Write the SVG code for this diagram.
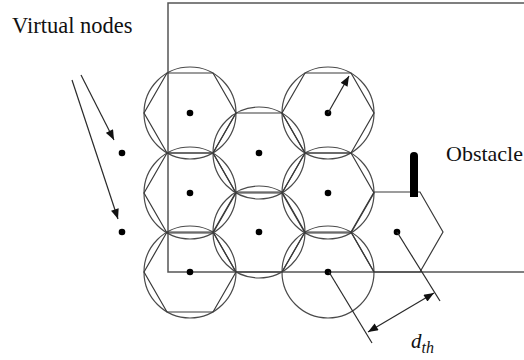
<svg xmlns="http://www.w3.org/2000/svg" width="524" height="360" viewBox="0 0 524 360">
<style>
.ln{fill:none;stroke:#2a2a2a;stroke-width:1.2}
.cir{fill:none;stroke:#4a4a4a;stroke-width:1.2}
.hex{fill:none;stroke:#3a3a3a;stroke-width:1.2}
.dot{fill:#000}
.lbl{font-family:"Liberation Serif","Times New Roman",serif;fill:#111}
.math{font-family:"Liberation Serif","Times New Roman",serif;font-style:italic;fill:#111}
</style>
<defs>
<polygon id="hx" points="-46,0 -23,-40 23,-40 46,0 23,40 -23,40"/>
<marker id="ah" viewBox="0 0 10 8" refX="10" refY="4" markerWidth="11" markerHeight="8" markerUnits="userSpaceOnUse" orient="auto-start-reverse">
<path d="M0,0 L10,4 L0,8 Z" fill="#111"/>
</marker>
</defs>
<rect x="0" y="0" width="524" height="360" fill="#fff"/>
<g id="region">
<path d="M524,3 H168 V272 H524" fill="none" stroke="#555" stroke-width="1.5"/>
</g>
<g id="cell-1-1"><circle class="cir" cx="190" cy="113" r="46"/><use href="#hx" class="hex" x="190" y="113"/><circle class="dot" cx="190" cy="113" r="3.3"/></g>
<g id="cell-1-2"><circle class="cir" cx="190" cy="193" r="46"/><use href="#hx" class="hex" x="190" y="193"/><circle class="dot" cx="190" cy="193" r="3.3"/></g>
<g id="cell-1-3"><circle class="cir" cx="190" cy="272" r="46"/><use href="#hx" class="hex" x="190" y="272"/><circle class="dot" cx="190" cy="272" r="3.3"/></g>
<g id="cell-2-1"><circle class="cir" cx="259" cy="153" r="46"/><use href="#hx" class="hex" x="259" y="153"/><circle class="dot" cx="259" cy="153" r="3.3"/></g>
<g id="cell-2-2"><circle class="cir" cx="259" cy="232" r="46"/><use href="#hx" class="hex" x="259" y="232"/><circle class="dot" cx="259" cy="232" r="3.3"/></g>
<g id="cell-3-1"><circle class="cir" cx="328" cy="113" r="46"/><use href="#hx" class="hex" x="328" y="113"/><circle class="dot" cx="328" cy="113" r="3.3"/></g>
<g id="cell-3-2"><circle class="cir" cx="328" cy="193" r="46"/><use href="#hx" class="hex" x="328" y="193"/><circle class="dot" cx="328" cy="193" r="3.3"/></g>
<g id="cell-3-3"><circle class="cir" cx="328" cy="272" r="46"/><polyline class="hex" points="282,272 305,232 351,232 374,272"/><circle class="dot" cx="328" cy="272" r="3.3"/></g>
<g id="cell-4"><use href="#hx" class="hex" x="397" y="232"/><circle class="dot" cx="397" cy="232" r="3.3"/></g>
<g id="obstacle">
<path d="M410,197 V156 A4,4 0 0 1 418,156 V197 Z" fill="#000"/>
<text class="lbl" x="446" y="161" font-size="22">Obstacle</text>
</g>
<g id="virtual-nodes">
<text class="lbl" x="12" y="33" font-size="22.5">Virtual nodes</text>
<circle class="dot" cx="122" cy="153" r="3.3"/>
<circle class="dot" cx="122" cy="232" r="3.3"/>
</g>
<g id="connectors">
<line class="ln" x1="81" y1="75" x2="114" y2="140" marker-end="url(#ah)"/>
<line class="ln" x1="72" y1="80" x2="118" y2="219" marker-end="url(#ah)"/>
<line class="ln" x1="328" y1="113" x2="349" y2="76" marker-end="url(#ah)"/>
<line class="ln" x1="329" y1="272" x2="372" y2="343"/>
<line class="ln" x1="397" y1="232" x2="440" y2="301"/>
<line class="ln" x1="368" y1="332" x2="434" y2="293" marker-start="url(#ah)" marker-end="url(#ah)"/>
</g>
<g id="dth">
<text class="math" x="411" y="348" font-size="21">d<tspan font-size="16" dy="5">th</tspan></text>
</g>
</svg>
